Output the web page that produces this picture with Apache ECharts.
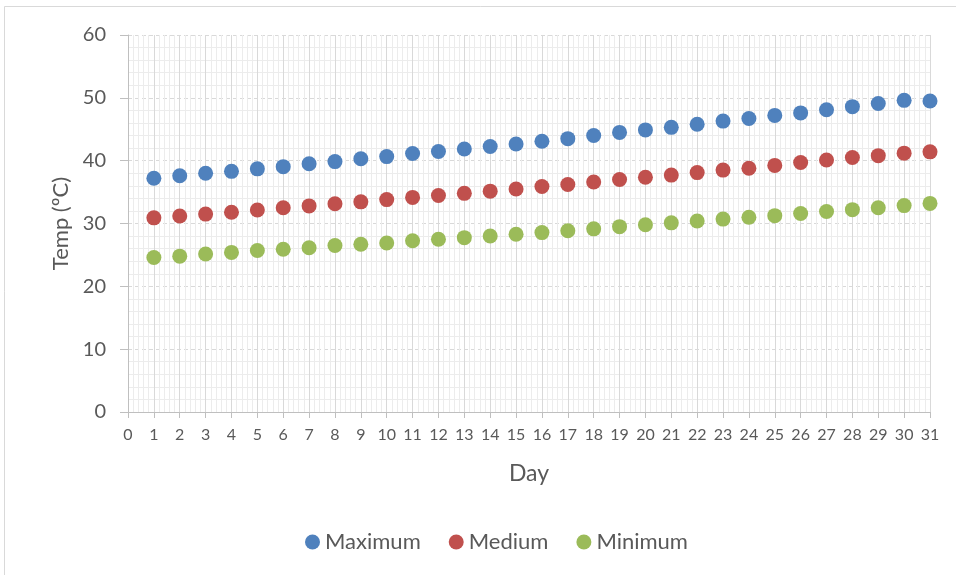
<!DOCTYPE html>
<html>
<head>
<meta charset="utf-8">
<script src="https://cdn.jsdelivr.net/npm/echarts@6/dist/echarts.min.js"></script>
<style>
  html, body { margin: 0; padding: 0; background: #fff; }
  #chart { width: 956px; height: 575px; }
</style>
</head>
<body>
<div id="chart"></div>
<script>
// daily temperatures (ºC)
const days = [1, 2, 3, 4, 5, 6, 7, 8, 9, 10, 11, 12, 13, 14, 15, 16, 17, 18, 19, 20, 21, 22, 23, 24, 25, 26, 27, 28, 29, 30, 31];
const maximum = [37.2, 37.6, 38.0, 38.3, 38.7, 39.05, 39.5, 39.85, 40.3, 40.65, 41.15, 41.45, 41.85, 42.25, 42.65, 43.1, 43.5, 44.0, 44.5, 44.9, 45.3, 45.8, 46.3, 46.7, 47.2, 47.6, 48.1, 48.6, 49.1, 49.6, 49.5];
const medium = [30.9, 31.2, 31.5, 31.8, 32.15, 32.5, 32.8, 33.15, 33.45, 33.8, 34.15, 34.45, 34.8, 35.15, 35.5, 35.9, 36.2, 36.6, 37.0, 37.35, 37.7, 38.1, 38.5, 38.8, 39.25, 39.7, 40.1, 40.5, 40.8, 41.2, 41.4];
const minimum = [24.6, 24.8, 25.15, 25.4, 25.7, 25.9, 26.15, 26.5, 26.7, 26.9, 27.25, 27.5, 27.75, 28.0, 28.3, 28.55, 28.85, 29.15, 29.5, 29.8, 30.1, 30.4, 30.7, 31.0, 31.25, 31.6, 31.9, 32.2, 32.5, 32.85, 33.2];
const seriesNames = ['Maximum', 'Medium', 'Minimum'];
const colors = ['#4F81BD', '#C0504D', '#9BBB59'];

const chart = echarts.init(document.getElementById('chart'));

const textColor = '#595959';
const font = 'Lato, "Open Sans", sans-serif';

const toPoints = (vals) => vals.map((v, i) => [days[i], v]);

const option = {
  animation: false,
  backgroundColor: '#fff',
  textStyle: { fontFamily: font, color: textColor },
  graphic: [
    {
      type: 'rect',
      shape: { x: 4.5, y: 6.5, width: 960, height: 580 },
      style: { fill: 'none', stroke: '#d9d9d9', lineWidth: 1 },
      silent: true
    }
  ],
  grid: { left: 128, right: 26, top: 35, bottom: 163 },
  legend: {
    bottom: 17,
    left: 300,
    icon: 'circle',
    itemWidth: 15,
    itemHeight: 15,
    itemGap: 28,
    textStyle: { fontSize: 22, color: textColor, fontFamily: font },
    data: seriesNames
  },
  xAxis: {
    type: 'value',
    min: 0,
    max: 31,
    interval: 1,
    name: 'Day',
    nameLocation: 'middle',
    nameGap: 50,
    nameTextStyle: { fontSize: 23, color: textColor },
    axisLine: { lineStyle: { color: '#bfbfbf', width: 1 } },
    axisTick: { show: true, length: 6, lineStyle: { color: '#bfbfbf' } },
    axisLabel: { fontSize: 16, color: textColor, margin: 15 },
    splitLine: { show: true, lineStyle: { color: '#d9d9d9', width: 1 } },
    minorTick: { show: false, splitNumber: 5 },
    minorSplitLine: { show: true, lineStyle: { color: '#ececec', width: 1 } }
  },
  yAxis: {
    type: 'value',
    min: 0,
    max: 60,
    interval: 10,
    name: 'Temp (ºC)',
    nameLocation: 'middle',
    nameGap: 56,
    nameRotate: 90,
    nameTextStyle: { fontSize: 22, color: textColor },
    axisLine: { show: true, lineStyle: { color: '#bfbfbf', width: 1 } },
    axisTick: { show: true, length: 8, lineStyle: { color: '#bfbfbf' } },
    axisLabel: { fontSize: 20, color: textColor, margin: 22 },
    splitLine: { show: true, lineStyle: { color: '#d9d9d9', width: 1, type: [4, 3] } },
    minorTick: { show: false, splitNumber: 5 },
    minorSplitLine: { show: true, lineStyle: { color: '#ececec', width: 1 } }
  },
  series: [
    { name: seriesNames[0], type: 'scatter', symbolSize: 15, itemStyle: { color: colors[0], opacity: 1 }, data: toPoints(maximum) },
    { name: seriesNames[1], type: 'scatter', symbolSize: 15, itemStyle: { color: colors[1], opacity: 1 }, data: toPoints(medium) },
    { name: seriesNames[2], type: 'scatter', symbolSize: 15, itemStyle: { color: colors[2], opacity: 1 }, data: toPoints(minimum) }
  ]
};

chart.setOption(option);
</script>
</body>
</html>
